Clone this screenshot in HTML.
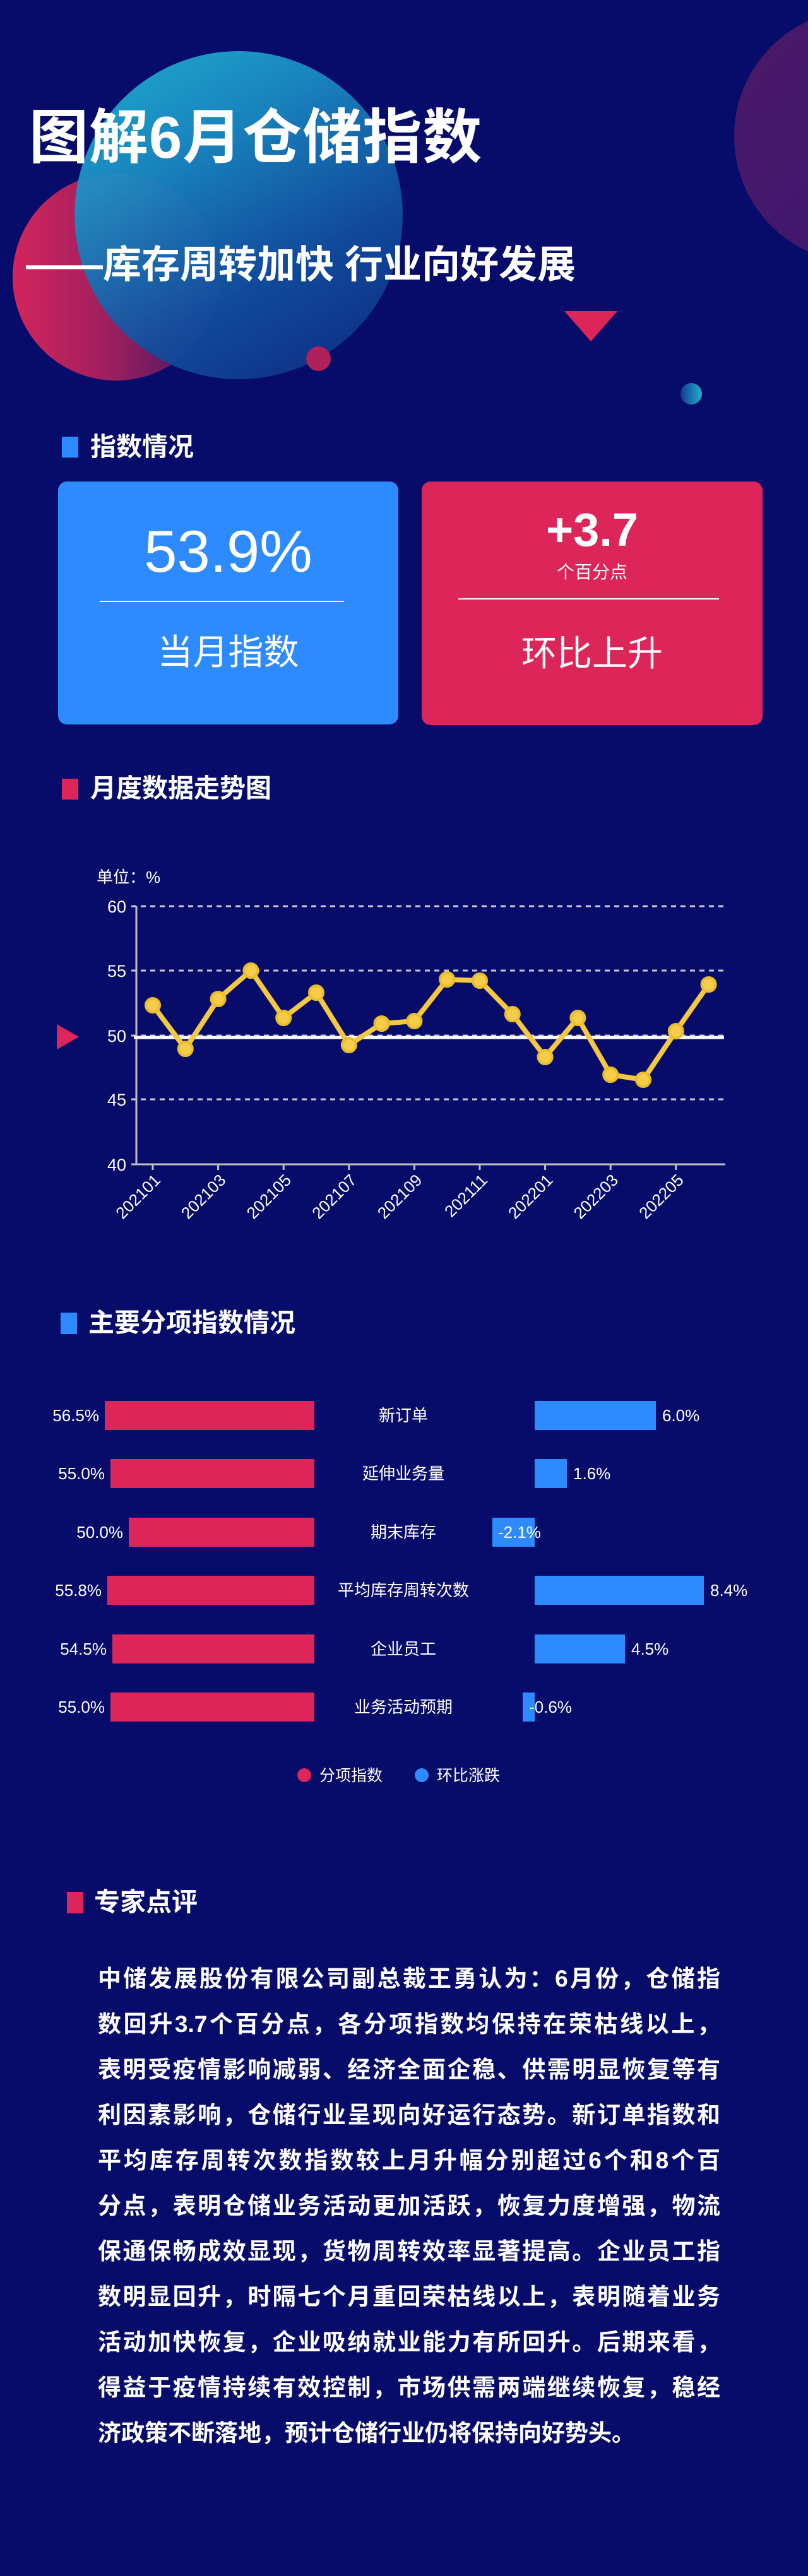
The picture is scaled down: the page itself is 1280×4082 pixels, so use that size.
<!DOCTYPE html>
<html><head><meta charset="utf-8">
<style>
*{margin:0;padding:0;box-sizing:border-box}
body{width:1280px;height:4082px;background:#070c6b;position:relative;overflow:hidden;font-family:"Liberation Sans","Noto Sans CJK SC",sans-serif;color:#fff}
.abs{position:absolute}
.circ{position:absolute;border-radius:50%}
.hdr{position:absolute;font-size:41px;font-weight:bold;line-height:1;white-space:nowrap}
.sq{position:absolute;width:26px}
.card{position:absolute;border-radius:14px;text-align:center}
.para{position:absolute;left:155px;width:986px;font-size:37px;font-weight:bold}
.para div{height:72px;line-height:72px;text-align:justify;text-align-last:justify;white-space:nowrap}
.para div.last{text-align-last:left}
</style></head><body>
<div class="circ" style="left:1163px;top:15px;width:402px;height:402px;background:linear-gradient(135deg,#4c1a68,#3a1570);"></div>
<div class="circ" style="left:20px;top:275px;width:328px;height:328px;background:linear-gradient(90deg,#d2255b 0%,#a01f5e 45%,#3a1466 100%);"></div>
<div class="circ" style="left:118px;top:81px;width:520px;height:520px;background:linear-gradient(150deg,#22b7d8 0%,#1a8fc4 30%,#124fa0 65%,#0c2a80 100%);opacity:0.93"></div>
<div class="circ" style="left:485px;top:549px;width:39px;height:39px;background:#b0205a"></div>
<div class="circ" style="left:1078px;top:607px;width:34px;height:34px;background:linear-gradient(90deg,#123a8a,#22b0d0)"></div>
<div class="abs" style="left:894px;top:493px;width:0;height:0;border-left:42px solid transparent;border-right:42px solid transparent;border-top:48px solid #dc2659"></div>

<div class="abs" style="left:46px;top:166px;font-size:94px;font-weight:bold;line-height:1.1;white-space:nowrap;letter-spacing:1px">图解6月仓储指数</div>
<div class="abs" style="left:41px;top:386px;font-size:61px;font-weight:bold;line-height:1.1;white-space:nowrap">——库存周转加快 行业向好发展</div>

<div class="sq" style="left:98px;top:692px;height:33px;background:#2e8bff"></div>
<div class="hdr" style="left:143px;top:688px">指数情况</div>

<div class="card" style="left:92px;top:763px;width:539px;height:385px;background:#2e8bff">
 <div class="abs" style="left:0;width:539px;top:64px;font-size:94px;line-height:1">53.9%</div>
 <div class="abs" style="left:66px;top:189px;width:387px;height:2px;background:#fff"></div>
 <div class="abs" style="left:0;width:539px;top:243px;font-size:56px;line-height:1">当月指数</div>
</div>
<div class="card" style="left:668px;top:763px;width:540px;height:386px;background:#dc265a">
 <div class="abs" style="left:0;width:540px;top:40px;font-size:74px;font-weight:bold;line-height:1">+3.7</div>
 <div class="abs" style="left:0;width:540px;top:130px;font-size:28px;line-height:1">个百分点</div>
 <div class="abs" style="left:58px;top:185px;width:413px;height:2px;background:#fff"></div>
 <div class="abs" style="left:0;width:540px;top:245px;font-size:56px;line-height:1">环比上升</div>
</div>

<div class="sq" style="left:98px;top:1234px;height:33px;background:#dc265a"></div>
<div class="hdr" style="left:143px;top:1229px">月度数据走势图</div>

<svg class="abs" style="left:0;top:1350px" width="1280" height="620" viewBox="0 1350 1280 620">
 <text x="153" y="1399" font-size="26" fill="#fff" font-family="Liberation Sans,Noto Sans CJK SC,sans-serif">单位：%</text>
 <g stroke="#c8c8c8" stroke-width="3" stroke-dasharray="8 7">
  <line x1="208" y1="1436" x2="1149" y2="1436"/>
  <line x1="208" y1="1538" x2="1149" y2="1538"/>
  <line x1="208" y1="1641" x2="1149" y2="1641"/>
  <line x1="208" y1="1742" x2="1149" y2="1742"/>
 </g>
 <line x1="216" y1="1436" x2="216" y2="1846" stroke="#bfbfbf" stroke-width="3"/>
 <line x1="208" y1="1845" x2="1149" y2="1845" stroke="#bfbfbf" stroke-width="3"/>
 <g stroke="#bfbfbf" stroke-width="3">
  <line x1="242" y1="1845" x2="242" y2="1854"/><line x1="345.6" y1="1845" x2="345.6" y2="1854"/><line x1="449.2" y1="1845" x2="449.2" y2="1854"/><line x1="552.8" y1="1845" x2="552.8" y2="1854"/><line x1="656.4" y1="1845" x2="656.4" y2="1854"/><line x1="760" y1="1845" x2="760" y2="1854"/><line x1="863.6" y1="1845" x2="863.6" y2="1854"/><line x1="967.2" y1="1845" x2="967.2" y2="1854"/><line x1="1070.8" y1="1845" x2="1070.8" y2="1854"/>
 </g>
 <g font-size="27" fill="#fff" text-anchor="end" font-family="Liberation Sans,sans-serif">
  <text x="200" y="1446">60</text><text x="200" y="1548">55</text><text x="200" y="1651">50</text><text x="200" y="1752">45</text><text x="200" y="1855">40</text>
 </g>
 <g font-size="26" fill="#fff" text-anchor="end" font-family="Liberation Sans,sans-serif">
  <text transform="translate(250,1866) rotate(-45)" y="8">202101</text>
  <text transform="translate(353.6,1866) rotate(-45)" y="8">202103</text>
  <text transform="translate(457.2,1866) rotate(-45)" y="8">202105</text>
  <text transform="translate(560.8,1866) rotate(-45)" y="8">202107</text>
  <text transform="translate(664.4,1866) rotate(-45)" y="8">202109</text>
  <text transform="translate(768,1866) rotate(-45)" y="8">202111</text>
  <text transform="translate(871.6,1866) rotate(-45)" y="8">202201</text>
  <text transform="translate(975.2,1866) rotate(-45)" y="8">202203</text>
  <text transform="translate(1078.8,1866) rotate(-45)" y="8">202205</text>
 </g>
 <line x1="212" y1="1644" x2="1147" y2="1644" stroke="#fff" stroke-width="5"/>
 <polygon points="90,1623 125,1643 90,1663" fill="#dc2659"/>
 <polyline fill="none" stroke="#f4c842" stroke-width="8" stroke-linejoin="round" points="242,1593 293.8,1662 345.6,1583 397.4,1538 449.2,1613 501,1573 552.8,1656 604.6,1622 656.4,1618 708.2,1552 760,1554 811.8,1607 863.6,1675 915.4,1613 967.2,1703 1019,1711 1070.8,1634 1122.6,1560"/>
 <g fill="#f5cd4a" stroke="#ebbd2c" stroke-width="4">
  <circle cx="242" cy="1593" r="11"/><circle cx="293.8" cy="1662" r="11"/><circle cx="345.6" cy="1583" r="11"/><circle cx="397.4" cy="1538" r="11"/><circle cx="449.2" cy="1613" r="11"/><circle cx="501" cy="1573" r="11"/><circle cx="552.8" cy="1656" r="11"/><circle cx="604.6" cy="1622" r="11"/><circle cx="656.4" cy="1618" r="11"/><circle cx="708.2" cy="1552" r="11"/><circle cx="760" cy="1554" r="11"/><circle cx="811.8" cy="1607" r="11"/><circle cx="863.6" cy="1675" r="11"/><circle cx="915.4" cy="1613" r="11"/><circle cx="967.2" cy="1703" r="11"/><circle cx="1019" cy="1711" r="11"/><circle cx="1070.8" cy="1634" r="11"/><circle cx="1122.6" cy="1560" r="11"/>
 </g>
</svg>

<div class="sq" style="left:96px;top:2080px;height:34px;background:#2e8bff"></div>
<div class="hdr" style="left:140px;top:2076px">主要分项指数情况</div>

<svg class="abs" style="left:0;top:2200px" width="1280" height="650" viewBox="0 2200 1280 650" font-family="Liberation Sans,Noto Sans CJK SC,sans-serif">
 <g fill="#dc265a">
  <rect x="166" y="2220" width="332" height="46"/>
  <rect x="175" y="2312" width="323" height="46"/>
  <rect x="204" y="2405" width="294" height="46"/>
  <rect x="170" y="2497" width="328" height="46"/>
  <rect x="178" y="2590" width="320" height="46"/>
  <rect x="175" y="2682" width="323" height="46"/>
 </g>
 <g fill="#2e8bff">
  <rect x="847" y="2220" width="192" height="46"/>
  <rect x="847" y="2312" width="51" height="46"/>
  <rect x="780" y="2405" width="67" height="46"/>
  <rect x="847" y="2497" width="268" height="46"/>
  <rect x="847" y="2590" width="143" height="46"/>
  <rect x="828" y="2682" width="19" height="46"/>
 </g>
 <g font-size="26" fill="#fff" text-anchor="end">
  <text x="157" y="2252">56.5%</text><text x="166" y="2344">55.0%</text><text x="195" y="2437">50.0%</text><text x="161" y="2529">55.8%</text><text x="169" y="2622">54.5%</text><text x="166" y="2714">55.0%</text>
 </g>
 <g font-size="26" fill="#fff" text-anchor="middle">
  <text x="639" y="2252">新订单</text><text x="639" y="2344">延伸业务量</text><text x="639" y="2437">期末库存</text><text x="639" y="2529">平均库存周转次数</text><text x="639" y="2622">企业员工</text><text x="639" y="2714">业务活动预期</text>
 </g>
 <g font-size="26" fill="#fff">
  <text x="1049" y="2252">6.0%</text><text x="908" y="2344">1.6%</text><text x="789" y="2437">-2.1%</text><text x="1125" y="2529">8.4%</text><text x="1000" y="2622">4.5%</text><text x="838" y="2714">-0.6%</text>
 </g>
 <circle cx="482" cy="2813" r="11" fill="#dc265a"/>
 <text x="506" y="2822" font-size="25" fill="#fff">分项指数</text>
 <circle cx="668" cy="2813" r="11" fill="#2e8bff"/>
 <text x="692" y="2822" font-size="25" fill="#fff">环比涨跌</text>
</svg>

<div class="sq" style="left:106px;top:2998px;height:34px;background:#dc265a"></div>
<div class="hdr" style="left:149px;top:2994px">专家点评</div>

<div class="para" style="top:3100px">
<div>中储发展股份有限公司副总裁王勇认为：6月份，仓储指</div>
<div>数回升3.7个百分点，各分项指数均保持在荣枯线以上，</div>
<div>表明受疫情影响减弱、经济全面企稳、供需明显恢复等有</div>
<div>利因素影响，仓储行业呈现向好运行态势。新订单指数和</div>
<div>平均库存周转次数指数较上月升幅分别超过6个和8个百</div>
<div>分点，表明仓储业务活动更加活跃，恢复力度增强，物流</div>
<div>保通保畅成效显现，货物周转效率显著提高。企业员工指</div>
<div>数明显回升，时隔七个月重回荣枯线以上，表明随着业务</div>
<div>活动加快恢复，企业吸纳就业能力有所回升。后期来看，</div>
<div>得益于疫情持续有效控制，市场供需两端继续恢复，稳经</div>
<div class="last">济政策不断落地，预计仓储行业仍将保持向好势头。</div>
</div>
</body></html>
